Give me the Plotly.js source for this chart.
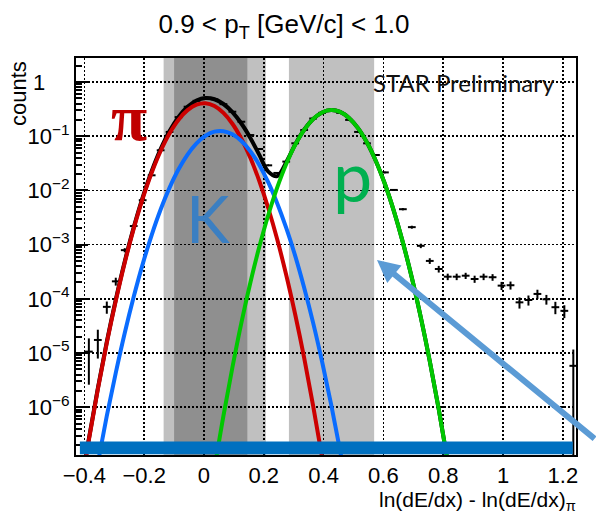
<!DOCTYPE html>
<html>
<head>
<meta charset="utf-8">
<script src="https://cdn.plot.ly/plotly-3.0.1.min.js"></script>
<style>html,body{margin:0;padding:0;background:#fff}#chart{width:596px;height:513px}</style>
</head>
<body>
<div id="chart"></div>
<script>
// ---- data histogram (bin centres, counts, errors) ----
const binX = [-0.385,-0.355,-0.325,-0.295,-0.265,-0.235,-0.205,
  -0.175,-0.145,-0.115,-0.085,-0.055,-0.025,0.005,
  0.035,0.065,0.095,0.125,0.155,0.185,0.215,
  0.245,0.275,0.305,0.335,0.365,0.395,0.425,
  0.455,0.485,0.515,0.545,0.575,0.605,0.635,
  0.665,0.695,0.725,0.755,0.785,0.815,0.845,
  0.875,0.905,0.935,0.965,0.995,1.025,1.055,
  1.085,1.115,1.145,1.175,1.205,1.235];
const counts = [1.06e-5,1.74e-5,7.1e-5,2.1e-4,7.9e-4,2.2e-3,6.6e-3,
  0.019,0.055,0.12,0.225,0.35,0.45,0.51,
  0.48,0.39,0.283,0.185,0.105,0.058,0.029,
  0.021,0.034,0.074,0.13,0.212,0.27,0.30,
  0.27,0.20,0.12,0.074,0.045,0.0215,0.0102,
  0.0045,0.0021,9.5e-4,5.0e-4,3.55e-4,2.56e-4,2.56e-4,
  2.67e-4,2.32e-4,2.56e-4,2.5e-4,1.75e-4,1.78e-4,8.6e-5,
  9.5e-5,1.23e-4,9.8e-5,7.0e-5,6.0e-5,5.8e-6];
const countErr = [8e-6,9.5e-6,1.8e-5,3.5e-5,7e-5,1.2e-4,2.5e-4,
  5e-4,1e-3,1.5e-3,2e-3,2.5e-3,3e-3,3e-3,
  3e-3,2.5e-3,2e-3,1.6e-3,1.2e-3,8e-4,6e-4,
  5e-4,6e-4,9e-4,1.2e-3,1.6e-3,1.8e-3,1.9e-3,
  1.8e-3,1.6e-3,1.2e-3,9e-4,7e-4,4.5e-4,3e-4,
  2e-4,1.3e-4,9e-5,6e-5,5e-5,3.5e-5,3.5e-5,
  3.5e-5,3.5e-5,3.5e-5,3.5e-5,3e-5,3e-5,2e-5,
  2e-5,2.4e-5,2e-5,1.8e-5,1.6e-5,5.79e-6];

// ---- fit curves ----
const pionX = [-0.415,-0.385,-0.355,-0.325,-0.295,-0.265,-0.235,-0.205,-0.175,-0.145,-0.115,-0.085,-0.055,-0.025,0.005,0.035,0.065,0.095,0.125,0.155,0.185,0.215,0.245,0.275,0.305,0.335,0.365,0.395,0.425];
const pionY = [2.5e-8,2.5e-7,2.13e-6,1.53e-5,9.16e-5,4.64e-4,1.97e-3,7.04e-3,0.0211,0.0533,0.1131,0.2017,0.3025,0.3813,0.405,0.3599,0.2694,0.1696,0.0897,0.0399,0.0149,0.00469,0.00124,2.75e-4,5.13e-5,8.1e-6,1.06e-6,1.18e-7,1.1e-8];
const kaonX = [-0.385,-0.355,-0.325,-0.295,-0.265,-0.235,-0.205,-0.175,-0.145,-0.115,-0.085,-0.055,-0.025,0.005,0.035,0.065,0.095,0.125,0.155,0.185,0.215,0.245,0.275,0.305,0.335,0.365,0.395,0.425,0.455,0.485];
const kaonY = [1.1e-8,9.3e-8,6.9e-7,4.3e-6,2.34e-5,1.09e-4,4.37e-4,1.5e-3,4.43e-3,0.01124,0.02451,0.04589,0.07385,0.1021,0.1213,0.1237,0.1085,0.0817,0.0529,0.0294,0.01405,0.00576,0.00203,6.2e-4,1.6e-4,3.6e-5,6.9e-6,1.14e-6,1.6e-7,2.0e-8];
const protonX = [0.035,0.065,0.095,0.125,0.155,0.185,0.215,0.245,0.275,0.305,0.335,0.365,0.395,0.425,0.455,0.485,0.515,0.545,0.575,0.605,0.635,0.665,0.695,0.725,0.755,0.785,0.815,0.845];
const protonY = [7.3e-8,6.9e-7,5.4e-6,3.6e-5,1.98e-4,9.1e-4,3.52e-3,0.01138,0.0307,0.0695,0.1313,0.2076,0.2746,0.304,0.2813,0.2178,0.141,0.0764,0.0346,0.01312,0.00416,0.0011,2.45e-4,4.55e-5,7.1e-6,9.2e-7,9.9e-8,9e-9];
const totalX = [-0.415,-0.385,-0.355,-0.325,-0.295,-0.265,-0.235,-0.205,-0.175,-0.145,-0.115,-0.085,-0.055,-0.025,0.005,0.035,0.065,0.095,0.125,0.155,0.185,0.215,0.245,0.275,0.305,0.335,0.365,0.395,0.425,0.455,0.485,0.515,0.545,0.575,0.605,0.635,0.665,0.695,0.725,0.755,0.785,0.815,0.845];
const totalY = [2.6e-8,2.6e-7,2.22e-6,1.6e-5,9.6e-5,4.87e-4,2.08e-3,7.48e-3,0.0226,0.0577,0.1243,0.2262,0.3484,0.4552,0.5071,0.4812,0.3931,0.2781,0.1714,0.0930,0.0452,0.02226,0.01838,0.0330,0.0702,0.1315,0.2076,0.2746,0.304,0.2813,0.2178,0.141,0.0764,0.0346,0.01312,0.00416,0.0011,2.45e-4,4.55e-5,7.1e-6,9.2e-7,9.9e-8,9e-9];

// ---- selection windows ----
const bandLo = [-0.135, -0.100, 0.284];
const bandHi = [ 0.207,  0.145, 0.569];
const bandColor = ['#c0c0c0', '#8f8f8f', '#c0c0c0'];

// ---- axis ticks ----
const xTickVals = [-0.4,-0.2,0,0.2,0.4,0.6,0.8,1,1.2];
const xTickText = ['\u22120.4','\u22120.2','0','0.2','0.4','0.6','0.8','1','1.2'];
const yTickVals = [1e-6,1e-5,1e-4,1e-3,1e-2,1e-1,1];
const yTickText = ['10<sup>\u22126</sup>','10<sup>\u22125</sup>','10<sup>\u22124</sup>','10<sup>\u22123</sup>','10<sup>\u22122</sup>','10<sup>\u22121</sup>','1\u00a0\u00a0\u00a0\u00a0'];

const FONT = 'Liberation Sans, Arial, Helvetica, sans-serif';

const traces = [
  {x: binX, y: counts, type: 'scatter', mode: 'markers',
   marker: {size: 2, color: '#000'},
   error_y: {type: 'data', array: countErr, color: '#000', thickness: 2, width: 0},
   error_x: {type: 'constant', value: 0.013, color: '#000', thickness: 2, width: 0},
   hoverinfo: 'skip'},
  {x: totalX, y: totalY, type: 'scatter', mode: 'lines', line: {color: '#000', width: 4, shape: 'spline'}},
  {x: pionX, y: pionY, type: 'scatter', mode: 'lines', line: {color: '#cc0000', width: 4, shape: 'spline'}},
  {x: kaonX, y: kaonY, type: 'scatter', mode: 'lines', line: {color: '#0a6cff', width: 4, shape: 'spline'}},
  {x: protonX, y: protonY, type: 'scatter', mode: 'lines', line: {color: '#00c800', width: 4, shape: 'spline'}}
];

const shapes = bandLo.map((lo, i) => ({
  type: 'rect', xref: 'x', yref: 'paper', x0: lo, x1: bandHi[i], y0: 0, y1: 1,
  fillcolor: bandColor[i], line: {width: 0}, layer: 'below'
}));
shapes.push({type: 'rect', xref: 'x', yref: 'paper', x0: -0.415, x1: 1.233, y0: 0.002, y1: 0.034,
  fillcolor: '#0070c0', line: {width: 0}, layer: 'above'});

// paper coordinates: plot area spans x 76..576 px, y 58..455 px
const px = v => (v - 76) / 500;
const py = v => (455 - v) / 397;

const annotations = [
  {text: 'counts', xref: 'paper', yref: 'paper', x: px(19), y: py(94), textangle: -90,
   showarrow: false, font: {family: FONT, size: 22, color: '#000'}, xanchor: 'center', yanchor: 'middle'},
  {text: 'ln(dE/dx) - ln(dE/dx)<sub>\u03c0</sub>', xref: 'paper', yref: 'paper', x: px(578), y: py(501),
   showarrow: false, font: {family: FONT, size: 21, color: '#000'}, xanchor: 'right', yanchor: 'middle'},
  {text: '<b>\u03c0</b>', xref: 'paper', yref: 'paper', x: px(129), y: py(118),
   showarrow: false, font: {family: 'Liberation Serif, DejaVu Serif, serif', size: 66, color: '#c00000'}, xanchor: 'center', yanchor: 'middle'},
  {text: 'K', xref: 'paper', yref: 'paper', x: px(208), y: py(217),
   showarrow: false, font: {family: 'Lato, Open Sans, sans-serif', size: 66, color: '#3b7fc2'}, xanchor: 'center', yanchor: 'middle'},
  {text: 'p', xref: 'paper', yref: 'paper', x: px(352), y: py(175),
   showarrow: false, font: {family: 'Lato, Open Sans, sans-serif', size: 70, color: '#00b050'}, xanchor: 'center', yanchor: 'middle'},
  {text: 'STAR Preliminary', xref: 'paper', yref: 'paper', x: px(464), y: py(82),
   showarrow: false, font: {family: 'Lato, Open Sans, sans-serif', size: 24, color: '#111'}, xanchor: 'center', yanchor: 'middle'},
  {text: '', xref: 'paper', yref: 'paper', x: px(377), y: py(260), ax: 225, ay: 180,
   showarrow: true, arrowhead: 2, arrowsize: 0.75, arrowwidth: 6, arrowcolor: '#5b9bd5', standoff: 0}
];

const layout = {
  width: 596, height: 513,
  margin: {l: 76, r: 20, t: 58, b: 58},
  paper_bgcolor: '#fff', plot_bgcolor: 'rgba(0,0,0,0)',
  showlegend: false,
  title: {text: '0.9 &lt; p<sub>T</sub> [GeV/c] &lt; 1.0', xref: 'container', yref: 'container',
    x: 284/596, y: 1 - 24/513, xanchor: 'center', yanchor: 'middle',
    font: {family: FONT, size: 26, color: '#000'}},
  xaxis: {range: [-0.428, 1.244], tickvals: xTickVals, ticktext: xTickText, ticks: '',
    showline: true, linecolor: '#000', linewidth: 2, mirror: true, zeroline: false,
    showgrid: true, gridcolor: '#000', gridwidth: 1.5, griddash: '1.5px,2.5px',
    tickfont: {family: FONT, size: 22, color: '#000'}},
  yaxis: {type: 'log', range: [-6.882, 0.443], tickvals: yTickVals, ticktext: yTickText,
    ticks: 'inside', ticklen: 12, tickwidth: 2, tickcolor: '#000',
    minor: {ticks: 'inside', ticklen: 6, tickwidth: 2, tickcolor: '#000', dtick: 'D1', showgrid: false},
    showline: true, linecolor: '#000', linewidth: 2, mirror: true, zeroline: false,
    showgrid: true, gridcolor: '#000', gridwidth: 1.5, griddash: '1.5px,2.5px',
    tickfont: {family: FONT, size: 22, color: '#000'}},
  shapes: shapes,
  annotations: annotations
};

Plotly.newPlot('chart', traces, layout, {staticPlot: true, displayModeBar: false});
</script>
</body>
</html>
